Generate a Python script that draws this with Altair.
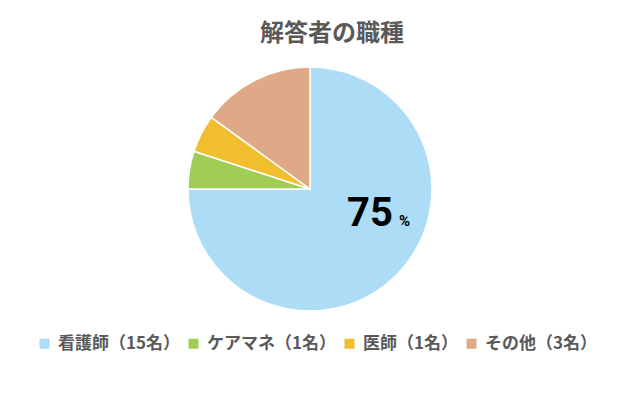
import altair as alt
import pandas as pd

categories = ["看護師", "ケアマネ", "医師", "その他"]
counts = [15, 1, 1, 3]
colors = ["#ADDCF7", "#A0CE55", "#F1BF2E", "#DFA886"]
title_text = "解答者の職種"
label_category = "看護師"

labels = [f"{c}（{n}名）" for c, n in zip(categories, counts)]
df = pd.DataFrame({"label": labels, "category": categories, "count": counts,
                   "idx": list(range(len(categories)))})

FONT = "Noto Sans CJK JP"

base = alt.Chart(df)

arc = base.mark_arc(x=302, y=131, outerRadius=122, stroke="white", strokeWidth=1.5).encode(
    theta=alt.Theta("count:Q", stack=True),
    order=alt.Order("idx:Q"),
    color=alt.Color("label:N",
                    scale=alt.Scale(domain=labels, range=colors),
                    sort=labels,
                    legend=alt.Legend(title=None, orient="none", direction="horizontal",
                                      legendX=28, legendY=277,
                                      symbolType="square", symbolSize=100,
                                      symbolStrokeWidth=0,
                                      labelFont=FONT, labelFontSize=17, labelFontWeight="bold",
                                      labelColor="#595959", labelOffset=5,
                                      columnPadding=4, labelLimit=300)),
)

pct = base.transform_joinaggregate(total="sum(count)").transform_calculate(
    pct="round(datum.count / datum.total * 100)"
).transform_filter(alt.datum.category == label_category)

num = pct.mark_text(x=385, y=168, align="right", baseline="alphabetic",
                    font="Roboto", fontSize=40, fontWeight="bold", color="#000000").encode(
    text=alt.Text("pct:Q", format="d"))
sign = pct.mark_text(x=391, y=168, align="left", baseline="alphabetic",
                     font="Roboto", fontSize=15, fontWeight="bold", color="#000000").encode(
    text=alt.value("%"))

chart = alt.layer(arc, num, sign).properties(
    width=610, height=334,
    autosize=alt.AutoSizeParams(type="none"),
    padding={"left": 0, "top": 50, "right": 0, "bottom": 0},
    title=alt.TitleParams(title_text, font=FONT, fontSize=24, fontWeight="bold",
                          color="#595959", anchor="middle", dx=19, offset=12),
).configure_view(stroke=None)

chart.save("out.html", embed_options={"renderer": "svg", "actions": False})
